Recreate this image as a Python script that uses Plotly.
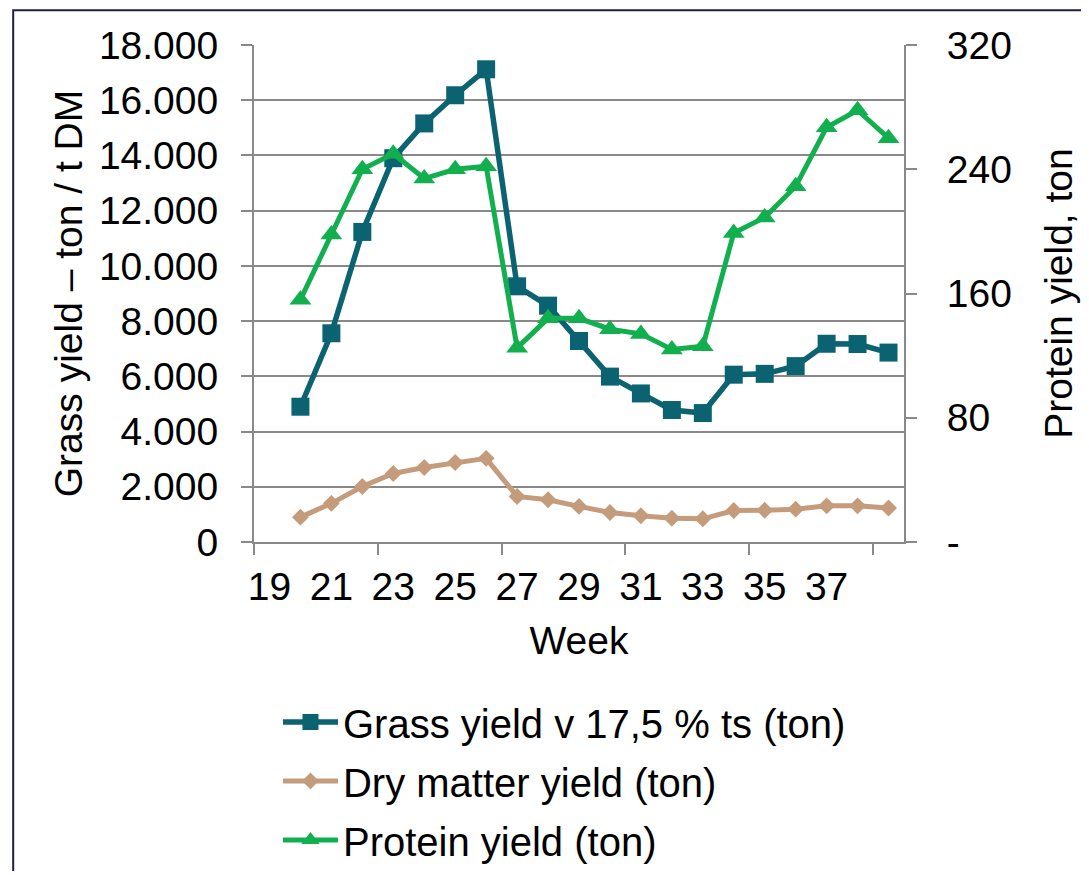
import plotly.graph_objects as go

weeks = [20, 21, 22, 23, 24, 25, 26, 27, 28, 29, 30, 31, 32, 33, 34, 35, 36, 37, 38, 39]
grass_yield = [4900, 7560, 11230, 13900, 15160, 16180, 17120, 9260, 8560, 7280, 5990,
               5380, 4780, 4670, 6060, 6090, 6370, 7180, 7170, 6860]
dry_matter = [900, 1400, 2010, 2480, 2700, 2880, 3030, 1650, 1530, 1290, 1070,
              950, 860, 840, 1140, 1150, 1190, 1310, 1310, 1230]
protein_yield = [156, 198, 240, 250, 234, 240, 242, 125, 144, 144, 137,
                 134, 124, 126, 199, 209, 229, 267, 278, 260]

x_tickvals = [19, 21, 23, 25, 27, 29, 31, 33, 35, 37]
y_tickvals = [0, 2000, 4000, 6000, 8000, 10000, 12000, 14000, 16000, 18000]
y_ticktext = ["0", "2.000", "4.000", "6.000", "8.000", "10.000", "12.000", "14.000", "16.000", "18.000"]
y2_tickvals = [0, 80, 160, 240, 320]
y2_ticktext = ["-", "80", "160", "240", "320"]

names = ["Grass yield v 17,5 % ts (ton)", "Dry matter yield (ton)", "Protein yield (ton)"]
TEAL = "#0B6371"
TAN = "#C49C7C"
GREEN = "#12AF4F"
GRID = "#898989"
FONT = "Liberation Sans, Arial, sans-serif"
FS = 39

fig = go.Figure()
fig.add_trace(go.Scatter(x=weeks, y=grass_yield, name=names[0], mode="lines+markers",
                         line=dict(color=TEAL, width=5.5),
                         marker=dict(symbol="square", size=18, color=TEAL),
                         legendgroup="a"))
fig.add_trace(go.Scatter(x=weeks, y=dry_matter, name=names[1], mode="lines+markers",
                         line=dict(color=TAN, width=5),
                         marker=dict(symbol="diamond", size=13, color=TAN),
                         legendgroup="b"))
fig.add_trace(go.Scatter(x=weeks, y=protein_yield, name=names[2], mode="lines+markers",
                         line=dict(color=GREEN, width=5),
                         marker=dict(symbol="triangle-up", size=19, color=GREEN),
                         yaxis="y2", legendgroup="c"))

# page offset of the figure (body margin)
OFF = 8
W, H = 1089 - 2 * OFF, 879 - 2 * OFF
# desired plot area in page pixels
PL, PR, PT, PB = 254, 904.5, 44.7, 542.4
L = PL - OFF
T = PT - OFF
R = W - (PR - OFF)
B = H - (PB - OFF)
pw = PR - PL
ph = PB - PT

def px_x(p):
    return (p - PL) / pw

def px_y(p):
    return (PB - p) / ph

fig.update_layout(
    width=W, height=H,
    margin=dict(l=L, r=R, t=T, b=B, autoexpand=False),
    paper_bgcolor="white", plot_bgcolor="white",
    font=dict(family=FONT, size=FS, color="#000000"),
    showlegend=True,
    legend=dict(x=px_x(278), y=px_y(690), xanchor="left", yanchor="top",
                font=dict(family=FONT, size=40, color="#000000"),
                traceorder="grouped", tracegroupgap=4, itemwidth=55,
                bgcolor="rgba(0,0,0,0)"),
    xaxis=dict(range=[18.5, 39.5], tickvals=x_tickvals, ticks="",
               showline=True, linecolor=GRID, linewidth=2, showgrid=False, zeroline=False,
               ticklabelstandoff=9,
               minor=dict(tick0=18.5, dtick=4, ticks="outside", ticklen=11,
                          tickcolor=GRID, tickwidth=2, showgrid=False),
               title=dict(text="Week", standoff=20, font=dict(size=FS))),
    yaxis=dict(range=[0, 18000], tickvals=y_tickvals, ticktext=y_ticktext,
               showgrid=True, gridcolor=GRID, gridwidth=2, zeroline=False,
               showline=True, linecolor=GRID, linewidth=2,
               ticks="outside", ticklen=11, tickcolor=GRID, tickwidth=2,
               ticklabelstandoff=15,
               title=dict(text="Grass yield – ton / t DM", standoff=4, font=dict(size=FS))),
    yaxis2=dict(range=[0, 320], tickvals=y2_tickvals, ticktext=y2_ticktext,
                overlaying="y", side="right", showgrid=False, zeroline=False,
                showline=True, linecolor=GRID, linewidth=2,
                ticks="outside", ticklen=11, tickcolor=GRID, tickwidth=2,
                ticklabelstandoff=22,
                title=dict(text="Protein yield, ton", standoff=34, font=dict(size=FS))),
    shapes=[dict(type="rect", xref="paper", yref="paper",
                 x0=px_x(13), x1=px_x(1110), y0=px_y(900), y1=px_y(10),
                 line=dict(color="#1E2044", width=2), fillcolor="rgba(0,0,0,0)", layer="below")],
)

fig.write_html("out.html")
